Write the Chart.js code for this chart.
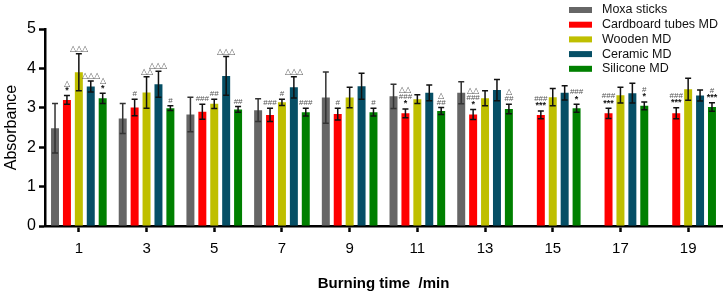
<!DOCTYPE html>
<html>
<head>
<meta charset="utf-8">
<script src="https://cdn.jsdelivr.net/npm/chart.js@4"></script>
<style>
  body { margin: 0; background: #fff; }
  #wrap { width: 724px; height: 294px; position: relative; }
</style>
</head>
<body>
<div id="wrap"><canvas id="absorbanceChart"></canvas></div>
<script>
const timeLabels = ['1', '3', '5', '7', '9', '11', '13', '15', '17', '19'];

const moxa = [2.48, 2.73, 2.83, 2.94, 3.26, 3.29, 3.38, null, null, null];
const moxaErr = [0.63, 0.38, 0.44, 0.29, 0.65, 0.31, 0.28, null, null, null];
const cardboard = [3.20, 3.01, 2.90, 2.82, 2.84, 2.86, 2.83, 2.82, 2.86, 2.86];
const cardboardErr = [0.11, 0.21, 0.19, 0.17, 0.15, 0.11, 0.13, 0.10, 0.13, 0.14];
const wooden = [3.90, 3.39, 3.10, 3.14, 3.26, 3.22, 3.24, 3.27, 3.32, 3.47];
const woodenErr = [0.47, 0.40, 0.12, 0.08, 0.26, 0.11, 0.19, 0.22, 0.20, 0.28];
const ceramic = [3.54, 3.60, 3.81, 3.52, 3.55, 3.38, 3.45, 3.38, 3.37, 3.31];
const ceramicErr = [0.14, 0.33, 0.49, 0.27, 0.33, 0.20, 0.27, 0.18, 0.25, 0.14];
const silicone = [3.24, 2.99, 2.96, 2.89, 2.89, 2.92, 2.97, 2.99, 3.05, 3.02];
const siliconeErr = [0.13, 0.06, 0.07, 0.10, 0.10, 0.09, 0.12, 0.10, 0.10, 0.11];

// significance marks, listed bottom to top
const moxaMarks = [[], [], [], [], [], [], [], [], [], []];
const cardboardMarks = [['*', '△'], ['#'], ['###'], ['###'], ['#'], ['*', '###', '△△'], ['*', '###', '△△'], ['***', '###'], ['***', '###'], ['***', '###']];
const woodenMarks = [['△△△'], ['△△'], ['##'], ['#'], [], [], [], [], [], []];
const ceramicMarks = [['△△△'], ['△△△'], ['△△△'], ['△△△'], [], [], [], [], [], []];
const siliconeMarks = [['*', '△'], ['#'], ['##'], ['###'], ['#'], ['##', '△'], ['##', '△'], ['*', '###'], ['*', '#'], ['***', '#']];

const FONT = '"Liberation Sans", Arial, Helvetica, sans-serif';

function series(label, data, err, marks, color) {
    return {
        label: label,
        data: data,
        err: err,
        marks: marks,
        backgroundColor: color,
        borderWidth: 0,
        categoryPercentage: 0.88,
        barPercentage: 0.67
    };
}

const errorBars = {
    id: 'errorBars',
    afterDatasetsDraw(chart) {
        const ctx = chart.ctx;
        const y = chart.scales.y;
        chart.data.datasets.forEach((ds, i) => {
            const meta = chart.getDatasetMeta(i);
            meta.data.forEach((bar, j) => {
                const v = ds.data[j];
                const e = ds.err[j];
                if (v == null || e == null) return;
                const top = y.getPixelForValue(v + e);
                const bot = y.getPixelForValue(v - e);
                ctx.save();
                ctx.strokeStyle = i === 0 ? '#333' : '#111';
                ctx.lineWidth = 1.5;
                ctx.beginPath();
                ctx.moveTo(bar.x, top);
                ctx.lineTo(bar.x, bot);
                ctx.moveTo(bar.x - 3, top);
                ctx.lineTo(bar.x + 3, top);
                ctx.moveTo(bar.x - 3, bot);
                ctx.lineTo(bar.x + 3, bot);
                ctx.stroke();
                // significance marks
                ctx.textAlign = 'center';
                ctx.textBaseline = 'middle';
                ds.marks[j].forEach((m, k) => {
                    ctx.font = (m[0] === '*' ? 'bold 9px ' : '8px ') + FONT;
                    ctx.fillStyle = m[0] === '*' ? '#111' : '#555';
                    ctx.fillText(m, bar.x, top - 5 - k * 7);
                });
                ctx.restore();
            });
        });
    }
};

const boxLegend = {
    id: 'boxLegend',
    afterDraw(chart) {
        const ctx = chart.ctx;
        ctx.save();
        ctx.font = '12.5px ' + FONT;
        ctx.textBaseline = 'middle';
        ctx.textAlign = 'left';
        chart.data.datasets.forEach((ds, i) => {
            const yy = 10 + i * 14.7;
            ctx.fillStyle = ds.backgroundColor;
            ctx.fillRect(569, yy - 3, 23, 6);
            ctx.fillStyle = '#111';
            ctx.fillText(ds.label, 602, yy);
        });
        ctx.restore();
    }
};

new Chart(document.getElementById('absorbanceChart'), {
    type: 'bar',
    data: {
        labels: timeLabels,
        datasets: [
            series('Moxa sticks', moxa, moxaErr, moxaMarks, '#666666'),
            series('Cardboard tubes MD', cardboard, cardboardErr, cardboardMarks, '#FF0000'),
            series('Wooden MD', wooden, woodenErr, woodenMarks, '#BFBF00'),
            series('Ceramic MD', ceramic, ceramicErr, ceramicMarks, '#064F66'),
            series('Silicone MD', silicone, siliconeErr, siliconeMarks, '#008000')
        ]
    },
    options: {
        responsive: true,
        maintainAspectRatio: false,
        animation: false,
        layout: { padding: { top: 29, right: 2, left: 0, bottom: 0 } },
        plugins: {
            legend: { display: false },
            tooltip: { enabled: false }
        },
        scales: {
            x: {
                afterFit: (s) => { s.height = 68; },
                grid: {
                    display: true,
                    drawOnChartArea: false,
                    drawTicks: true,
                    offset: false,
                    tickLength: 6,
                    tickWidth: 2.5,
                    tickColor: '#000'
                },
                border: { display: true, width: 2.5, color: '#000' },
                ticks: { color: '#000', padding: 8, font: { family: FONT, size: 15 } },
                title: {
                    display: true,
                    text: 'Burning time  /min',
                    color: '#000',
                    font: { family: FONT, size: 15, weight: 'bold' },
                    padding: { top: 0, bottom: 1 }
                }
            },
            y: {
                min: 0,
                max: 5,
                afterFit: (s) => { s.width = 45; },
                grid: {
                    display: true,
                    drawOnChartArea: false,
                    drawTicks: true,
                    tickLength: 6,
                    tickWidth: 2.5,
                    tickColor: '#000'
                },
                border: { display: true, width: 2.5, color: '#000' },
                ticks: { stepSize: 1, color: '#000', padding: 3, font: { family: FONT, size: 16 } },
                title: {
                    display: true,
                    text: 'Absorbance',
                    color: '#000',
                    font: { family: FONT, size: 16 },
                    padding: { top: 2, bottom: 0 }
                }
            }
        }
    },
    plugins: [errorBars, boxLegend]
});
</script>
</body>
</html>
